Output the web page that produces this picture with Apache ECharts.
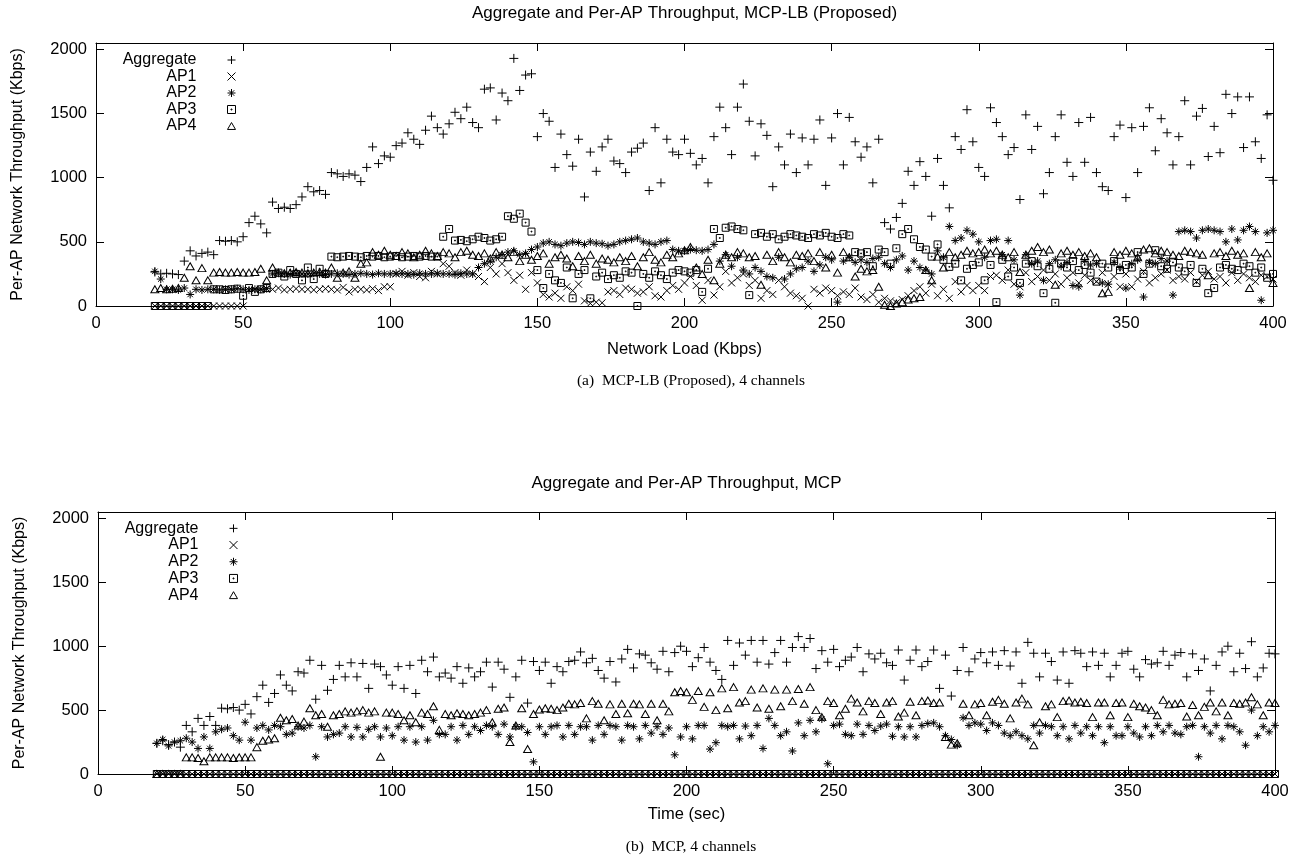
<!DOCTYPE html>
<html><head><meta charset="utf-8">
<script src="https://cdn.jsdelivr.net/npm/echarts@6/dist/echarts.min.js"></script>
<style>html,body{margin:0;padding:0;background:#fff}#c{width:1308px;height:864px}</style>
</head><body><div id="c"></div>
<script>
// sample times / network load (x), every 2 units
const times = [20,22,24,26,28,30,32,34,36,38,
40,42,44,46,48,50,52,54,56,58,
60,62,64,66,68,70,72,74,76,78,
80,82,84,86,88,90,92,94,96,98,
100,102,104,106,108,110,112,114,116,118,
120,122,124,126,128,130,132,134,136,138,
140,142,144,146,148,150,152,154,156,158,
160,162,164,166,168,170,172,174,176,178,
180,182,184,186,188,190,192,194,196,198,
200,202,204,206,208,210,212,214,216,218,
220,222,224,226,228,230,232,234,236,238,
240,242,244,246,248,250,252,254,256,258,
260,262,264,266,268,270,272,274,276,278,
280,282,284,286,288,290,292,294,296,298,
300,302,304,306,308,310,312,314,316,318,
320,322,324,326,328,330,332,334,336,338,
340,342,344,346,348,350,352,354,356,358,
360,362,364,366,368,370,372,374,376,378,
380,382,384,386,388,390,392,394,396,398,
400];

// ---- (a) MCP-LB (Proposed) ----
const aggA = [265,250,255,250,245,350,430,390,410,420,
400,510,505,510,500,540,650,700,640,570,
810,760,770,760,790,850,930,890,900,870,
1040,1030,1010,1030,1020,970,1080,1240,1110,1170,
1160,1250,1270,1350,1300,1260,1370,1480,1390,1340,
1420,1510,1460,1550,1430,1390,1690,1700,1450,1660,
1600,1930,1680,1800,1810,1320,1500,1440,1080,1340,
1180,1090,1300,850,1200,1050,1240,1300,1130,1110,
1040,1200,1230,1270,900,1390,960,1300,1200,1180,
1300,1190,1100,1150,960,1320,1550,1390,1180,1550,
1730,1440,1170,1420,1330,930,1240,1100,1340,1040,
1310,1100,1300,1450,940,1310,1500,1100,1470,1280,
1160,1240,960,1300,650,600,690,800,1050,940,
1125,1010,700,1150,940,765,1320,1220,1530,1280,
1080,1010,1545,1430,1320,1180,1235,830,1490,1220,
1400,875,1040,1320,1490,1120,1010,1430,1120,1470,
1040,930,900,1320,1410,845,1390,1040,1400,1545,
1210,1460,1350,1100,1320,1600,1100,1480,1540,1165,
1400,1195,1650,1500,1630,1235,1630,1280,1150,1490,
980];
const ap1A = [0,0,0,0,0,0,0,0,0,0,
0,0,0,0,0,0,125,130,130,135,
130,140,125,130,135,130,130,125,130,135,
130,125,145,110,130,130,125,135,120,150,
150,250,270,240,260,230,220,270,250,330,
310,260,240,280,250,230,190,300,250,330,
260,200,240,130,260,180,90,70,100,60,
150,120,170,40,20,30,25,110,120,90,
140,130,100,110,150,80,70,120,160,130,
180,230,160,45,200,85,150,270,180,220,
250,160,200,60,120,90,200,150,100,80,
60,0,130,100,140,120,80,110,90,140,
70,50,90,30,60,40,25,50,80,120,
150,100,170,80,130,60,190,110,160,120,
160,120,230,240,200,280,170,150,260,190,
230,280,200,250,170,220,260,180,240,200,
190,260,170,230,150,250,150,210,270,180,
220,250,280,200,230,210,260,190,240,270,
210,230,180,260,200,250,220,190,240,230,
210];
const ap2A = [270,210,130,130,125,140,90,130,125,130,
130,125,130,130,135,130,125,130,130,135,
250,255,250,245,255,250,250,255,250,245,
250,255,250,245,250,255,250,245,255,250,
250,255,250,250,245,255,250,250,255,250,
250,245,255,250,250,300,330,350,380,400,
420,430,400,410,440,460,490,500,480,470,
490,500,495,480,500,490,485,470,480,500,
510,520,530,500,490,480,500,510,440,430,
430,440,435,430,440,480,350,400,310,380,
280,250,300,270,230,220,380,210,250,290,
300,350,270,320,380,360,30,350,380,340,
360,340,370,380,330,300,360,390,280,350,
300,280,250,430,380,620,510,530,590,560,
500,380,510,520,400,510,360,85,400,330,
350,200,330,360,310,340,160,150,350,320,
330,180,170,340,300,140,330,360,70,340,
330,370,350,85,580,590,580,530,590,600,
590,580,500,600,515,590,620,580,45,570,
590];
const ap3A = [0,0,0,0,0,0,0,0,0,0,
130,130,125,130,135,80,140,110,130,140,
250,260,230,280,250,200,300,210,290,250,
385,380,385,390,385,380,390,385,390,380,
385,390,380,385,390,385,390,385,385,540,
600,510,515,505,520,540,530,510,520,540,
700,680,720,650,580,280,140,250,200,180,
300,60,250,280,60,230,260,210,240,220,
270,260,0,250,220,270,240,210,260,280,
270,260,280,110,290,600,530,610,620,600,
590,85,560,570,540,560,520,540,560,550,
540,530,560,550,570,540,530,560,550,420,
410,420,310,440,420,330,450,560,600,520,
460,440,385,480,360,305,330,200,290,320,
340,200,320,30,360,230,300,180,330,350,
310,100,290,25,330,300,350,280,320,260,
190,330,300,350,280,320,300,420,250,330,
435,310,290,340,300,270,320,180,290,100,
140,300,320,290,280,330,310,260,300,220,
250];
const ap4A = [130,140,130,135,140,220,310,200,295,200,
260,265,260,260,265,260,260,265,290,200,
300,260,255,260,265,260,255,260,265,260,
300,220,260,270,220,330,340,420,400,430,
400,390,420,410,380,400,430,410,390,420,
410,380,420,430,400,390,410,370,420,400,
380,420,350,400,360,390,410,330,380,400,
370,310,390,350,400,330,370,360,340,380,
350,390,310,380,420,360,340,400,380,410,
435,460,300,250,360,200,330,400,380,420,
410,380,390,165,400,350,420,380,340,400,
390,410,350,420,300,400,260,420,380,230,
290,270,280,150,10,0,20,30,50,60,
70,280,200,385,300,420,380,400,430,410,
420,440,410,430,400,380,420,265,400,430,
460,420,440,165,410,430,400,420,390,410,
380,100,110,420,400,430,410,380,440,450,
410,430,420,400,390,430,420,410,400,240,
410,420,390,430,400,410,140,420,380,410,
180];

// ---- (b) MCP ----
const aggB = [240,260,230,250,210,380,330,435,380,450,
380,515,510,520,500,545,470,605,695,560,
630,775,695,650,800,790,890,585,850,655,
740,850,760,870,760,865,670,860,840,775,
695,840,670,850,630,890,800,915,760,790,
750,840,710,830,760,800,875,680,875,820,
600,760,890,555,880,810,875,710,840,800,
880,890,955,870,905,810,750,880,720,900,
975,830,940,930,870,820,960,800,950,1000,
960,840,910,990,875,810,740,1045,850,1025,
930,1045,875,1045,860,950,1045,875,990,1075,
990,1060,825,965,875,975,840,890,915,990,
800,940,900,945,870,850,970,735,890,970,
840,880,970,670,930,610,810,990,800,900,
950,870,955,850,965,845,955,710,1030,945,
760,945,880,735,955,710,965,945,840,955,
850,945,760,850,945,960,820,760,895,860,
870,960,850,930,950,760,940,810,900,650,
850,955,1000,800,945,825,1035,760,830,945,
940];
const ap1B = [0,0,0,0,0,0,0,0,0,0, 0,0,0,0,0,0,0,0,0,0, 0,0,0,0,0,0,0,0,0,0, 0,0,0,0,0,0,0,0,0,0,
0,0,0,0,0,0,0,0,0,0, 0,0,0,0,0,0,0,0,0,0, 0,0,0,0,0,0,0,0,0,0, 0,0,0,0,0,0,0,0,0,0,
0,0,0,0,0,0,0,0,0,0, 0,0,0,0,0,0,0,0,0,0, 0,0,0,0,0,0,0,0,0,0, 0,0,0,0,0,0,0,0,0,0,
0,0,0,0,0,0,0,0,0,0, 0,0,0,0,0,0,0,0,0,0, 0,0,0,0,0,0,0,0,0,0, 0,0,0,0,0,0,0,0,0,0,
0,0,0,0,0,0,0,0,0,0, 0,0,0,0,0,0,0,0,0,0, 0,0,0,0,0,0,0,0,0,0,
0];
const ap2B = [240,270,220,250,260,280,250,200,290,200,
330,350,360,300,265,405,265,360,380,345,
380,370,310,320,370,360,380,135,370,290,
310,320,370,290,365,290,350,370,290,360,
300,370,265,370,250,370,265,420,310,310,
370,265,380,310,370,340,380,370,310,390,
290,370,370,325,95,370,310,370,380,290,
380,310,370,370,265,380,310,380,370,265,
380,370,275,380,320,370,310,360,150,290,
370,275,380,380,195,245,380,370,380,275,
375,300,380,200,435,380,300,330,180,400,
300,420,330,430,80,380,390,310,300,390,
310,380,340,375,390,295,370,290,370,290,
380,395,400,370,300,270,225,440,380,400,
390,340,400,380,320,300,330,300,275,380,
320,380,370,300,370,275,380,320,370,300,
370,245,370,300,300,370,320,290,370,300,
380,330,380,320,310,370,380,135,370,320,
380,275,380,370,330,225,500,300,370,330,
380];
const ap3B = [0,0,0,0,0,0,0,0,0,0, 0,0,0,0,0,0,0,0,0,0, 0,0,0,0,0,0,0,0,0,0, 0,0,0,0,0,0,0,0,0,0,
0,0,0,0,0,0,0,0,0,0, 0,0,0,0,0,0,0,0,0,0, 0,0,0,0,0,0,0,0,0,0, 0,0,0,0,0,0,0,0,0,0,
0,0,0,0,0,0,0,0,0,0, 0,0,0,0,0,0,0,0,0,0, 0,0,0,0,0,0,0,0,0,0, 0,0,0,0,0,0,0,0,0,0,
0,0,0,0,0,0,0,0,0,0, 0,0,0,0,0,0,0,0,0,0, 0,0,0,0,0,0,0,0,0,0, 0,0,0,0,0,0,0,0,0,0,
0,0,0,0,0,0,0,0,0,0, 0,0,0,0,0,0,0,0,0,0, 0,0,0,0,0,0,0,0,0,0,
0];
const ap4B = [0,0,0,0,0,130,130,125,100,130,
130,130,130,125,130,130,130,210,260,270,
280,440,420,430,380,410,515,460,470,370,
460,470,490,480,490,500,480,490,135,480,
480,470,420,460,405,480,470,530,345,470,
460,475,470,460,470,480,500,405,510,520,
250,380,515,195,470,505,515,510,500,520,
550,545,555,435,570,550,420,545,470,550,
475,550,545,470,550,420,550,490,640,650,
640,580,650,525,640,500,670,515,680,560,
570,660,520,670,510,660,530,660,570,665,
550,680,500,445,570,555,460,510,590,560,
490,570,555,470,560,570,450,480,565,460,
570,575,555,560,290,230,240,550,460,545,
555,460,565,580,550,435,560,590,545,225,
405,530,545,445,570,575,560,565,555,445,
560,560,460,555,560,445,550,530,520,500,
460,580,545,550,555,450,540,460,525,560,
490,560,460,555,550,560,600,545,460,560,
555];

const seriesNames = ['Aggregate','AP1','AP2','AP3','AP4'];
const titles = ['Aggregate and Per-AP Throughput, MCP-LB (Proposed)', 'Aggregate and Per-AP Throughput, MCP'];
const xNames = ['Network Load (Kbps)', 'Time (sec)'];
const captions = ['(a)  MCP-LB (Proposed), 4 channels', '(b)  MCP, 4 channels'];
const yName = 'Per-AP Network Throughput (Kbps)';

const SANS = '"Liberation Sans", Arial, Helvetica, sans-serif';
const SERIF = '"Liberation Serif", "Times New Roman", serif';

const markers = {
  Aggregate: {symbol: 'path://M0,5L10,5M5,0L5,10', size: 9},
  AP1: {symbol: 'path://M0,0L10,10M10,0L0,10', size: 7},
  AP2: {symbol: 'path://M0,5L10,5M5,0L5,10M1.6,1.6L8.4,8.4M8.4,1.6L1.6,8.4', size: 8},
  AP3: {symbol: 'path://M0,0L10,0L10,10L0,10ZM4.4,4.4L5.6,4.4L5.6,5.6L4.4,5.6Z', size: 7},
  AP4: {symbol: 'path://M5,0L10,8.66L0,8.66Z', size: [8, 7]}
};
const strokeStyle = {color: 'rgba(0,0,0,0)', borderColor: '#000', borderWidth: 1, opacity: 1};

function sc(name, vals, gi) {
  const m = markers[name];
  return {
    type: 'scatter', name: name, xAxisIndex: gi * 2, yAxisIndex: gi * 2,
    data: times.map((t, i) => [t, vals[i]]),
    symbol: m.symbol, symbolSize: m.size, itemStyle: strokeStyle,
    emphasis: {disabled: true}, silent: true, animation: false, clip: false, large: false
  };
}

const grids = [
  {left: 96, top: 43, width: 1177, height: 263},
  {left: 98, top: 512, width: 1177, height: 262}
];
const xNameGaps = [35, 32];

const lineStyle = {color: '#000', width: 1};
function xAxes(gi) {
  const base = {type: 'value', gridIndex: gi, min: 0, max: 400, interval: 50,
    axisLine: {show: true, onZero: false, lineStyle: lineStyle}, splitLine: {show: false},
    axisTick: {show: true, inside: true, length: 8, lineStyle: lineStyle}};
  return [
    Object.assign({}, base, {position: 'bottom',
      axisLabel: {show: true, margin: 9, color: '#000', fontFamily: SANS, fontSize: 16.5},
      name: xNames[gi], nameLocation: 'middle', nameGap: xNameGaps[gi],
      nameTextStyle: {color: '#000', fontFamily: SANS, fontSize: 16.5}}),
    Object.assign({}, base, {position: 'top', axisLabel: {show: false}})
  ];
}
function yAxes(gi) {
  const base = {type: 'value', gridIndex: gi, min: 0, max: 2050, interval: 500,
    axisLine: {show: true, onZero: false, lineStyle: lineStyle}, splitLine: {show: false},
    axisTick: {show: true, inside: true, length: 8, lineStyle: lineStyle}};
  return [
    Object.assign({}, base, {position: 'left',
      axisLabel: {show: true, margin: 9, color: '#000', fontFamily: SANS, fontSize: 16.5,
        formatter: v => (v % 500 === 0 ? String(v) : '')},
      name: yName, nameLocation: 'middle', nameGap: 70, nameRotate: 90,
      nameTextStyle: {color: '#000', fontFamily: SANS, fontSize: 16}}),
    Object.assign({}, base, {position: 'right', axisLabel: {show: false}})
  ];
}

function legend(gi, right, top, lh) {
  return {
    data: seriesNames, orient: 'vertical', align: 'right', right: right, top: top,
    itemWidth: 8, itemHeight: 8, itemGap: 0, padding: 0, selectedMode: false,
    itemStyle: strokeStyle,
    textStyle: {fontFamily: SANS, fontSize: 16, color: '#000', lineHeight: lh, padding: [0, 26, 0, 0]}
  };
}

function txt(text, x, y, font) {
  return {type: 'text', x: x, y: y, silent: true,
    style: {text: text, font: font, fill: '#000', align: 'center', verticalAlign: 'middle',
      textAlign: 'center', textVerticalAlign: 'middle'}};
}

const series = [
  sc('Aggregate', aggA, 0), sc('AP1', ap1A, 0), sc('AP2', ap2A, 0), sc('AP3', ap3A, 0), sc('AP4', ap4A, 0),
  sc('Aggregate', aggB, 1), sc('AP1', ap1B, 1), sc('AP2', ap2B, 1), sc('AP3', ap3B, 1), sc('AP4', ap4B, 1)
];

const chart = echarts.init(document.getElementById('c'), null, {renderer: 'canvas'});
chart.setOption({
  backgroundColor: '#fff',
  animation: false,
  grid: grids,
  xAxis: xAxes(0).concat(xAxes(1)),
  yAxis: yAxes(0).concat(yAxes(1)),
  legend: [legend(0, 1072, 51.75, 16.5), legend(1, 1070, 520, 16.7)],
  graphic: [
    txt(titles[0], 684.5, 13, '17px ' + SANS),
    txt(titles[1], 686.5, 483, '17px ' + SANS),
    txt(captions[0], 691, 381, '15.5px ' + SERIF),
    txt(captions[1], 691, 847, '15.5px ' + SERIF)
  ],
  series: series
});
</script>
</body></html>
